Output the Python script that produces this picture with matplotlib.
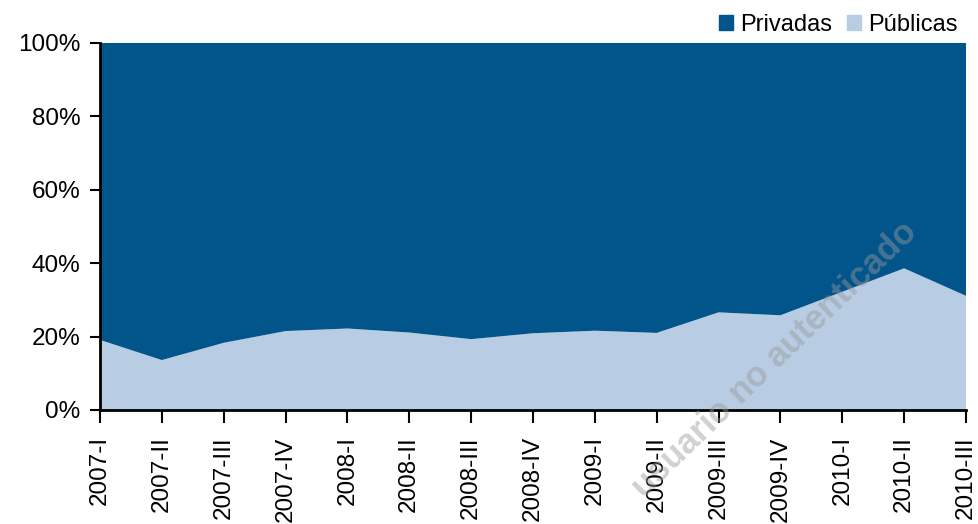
import matplotlib.pyplot as plt
from matplotlib.patches import Patch
from matplotlib.ticker import FuncFormatter

plt.rcParams['font.family'] = ['Liberation Sans', 'DejaVu Sans']

# datos (% del total)
periodos = ["2007-I", "2007-II", "2007-III", "2007-IV",
            "2008-I", "2008-II", "2008-III", "2008-IV",
            "2009-I", "2009-II", "2009-III", "2009-IV",
            "2010-I", "2010-II", "2010-III"]
publicas = [19.1, 13.6, 18.3, 21.5, 22.2, 21.1, 19.3, 20.9,
            21.6, 21.0, 26.6, 25.8, 32.2, 38.6, 31.1]
privadas = [100 - p for p in publicas]

c_priv = "#02558B"
c_pub = "#B8CCE4"

fig = plt.figure(figsize=(9.79, 5.24), dpi=100)
ax = fig.add_axes([0.1021, 0.2176, 0.8846, 0.7004])

x = list(range(len(periodos)))
ax.stackplot(x, publicas, privadas, colors=[c_pub, c_priv], linewidth=0)

ax.set_xlim(0, len(periodos) - 1)
ax.set_ylim(0, 100)
ax.set_yticks([0, 20, 40, 60, 80, 100])
ax.yaxis.set_major_formatter(FuncFormatter(lambda v, p: f"{v:.0f}%"))
ax.set_xticks(x)
ax.set_xticklabels(periodos, rotation=90, va="top", ha="center")

for s in ["top", "right"]:
    ax.spines[s].set_visible(False)
for s in ["left", "bottom"]:
    ax.spines[s].set_linewidth(2)
ax.tick_params(axis="y", direction="out", length=7, width=1.5, labelsize=17.5, pad=7)
ax.tick_params(axis="x", direction="out", length=9, width=1.5, labelsize=17.5, pad=10)

handles = [Patch(color=c_priv, label="Privadas"), Patch(color=c_pub, label="Públicas")]
fig.legend(handles=handles, loc="center right", bbox_to_anchor=(0.978, 0.953),
           ncol=2, frameon=False, fontsize=17, handlelength=0.6, handleheight=0.6,
           handletextpad=0.3, columnspacing=0.6, borderaxespad=0, borderpad=0)

# marca de agua
fig.text(775 / 979, 1 - 360 / 524, "usuario no autenticado", rotation=44,
         ha="center", va="center", fontsize=25, fontweight="bold",
         color="#999999", alpha=0.45)

fig.savefig("out.png", dpi=100)
